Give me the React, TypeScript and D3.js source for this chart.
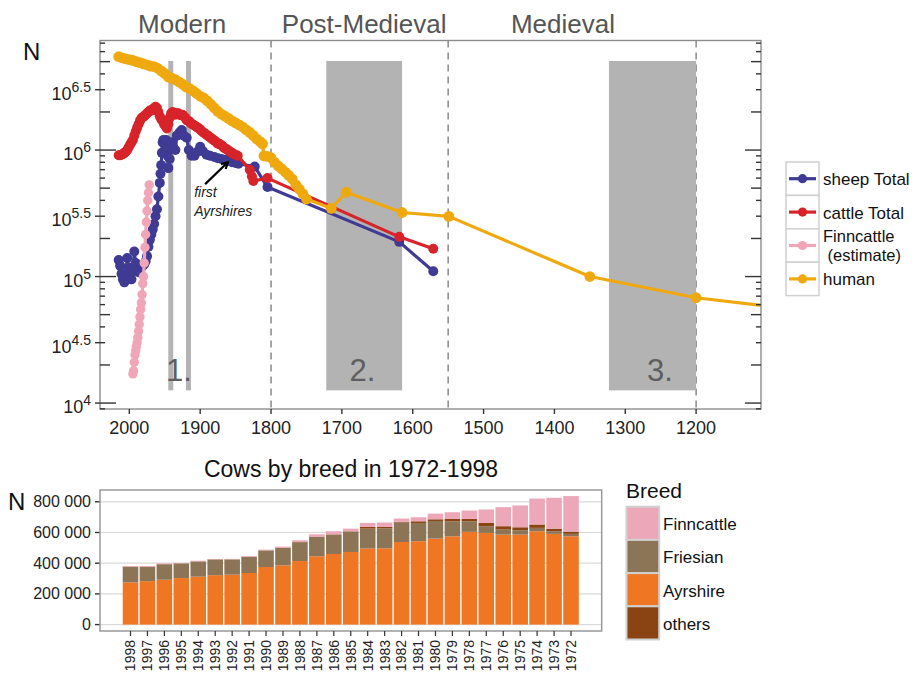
import React from "react";
import * as d3 from "d3";

// ---------- Top chart data (year, N) ----------
const SHEEP: [number, number][] = [
  [2015, 135e3], [2013, 122e3], [2011, 105e3], [2009, 95e3], [2007, 90e3], [2005, 100e3], [2003, 140e3],
  [2001, 118e3], [1999, 100e3], [1997, 95e3], [1995, 112e3], [1993, 158e3], [1991, 128e3], [1989, 112e3],
  [1987, 108e3], [1985, 112e3], [1983, 118e3], [1981, 122e3], [1979, 125e3], [1977, 132e3], [1975, 145e3],
  [1973, 172e3], [1971, 195e3], [1969, 215e3], [1967, 235e3], [1965, 260e3], [1963, 300e3], [1961, 340e3],
  [1959, 430e3], [1957, 550e3], [1956, 650e3], [1955, 760e3], [1954, 950e3], [1953, 1.15e6], [1952, 1.2e6],
  [1950, 1.1e6], [1948, 1.2e6], [1946, 0.9e6], [1945, 0.72e6], [1943, 0.85e6], [1942, 1.05e6], [1940, 1.15e6],
  [1938, 1.05e6], [1935, 1.0e6], [1933, 1.3e6], [1929, 1.38e6], [1926, 1.44e6], [1923, 1.3e6], [1919, 1.25e6],
  [1916, 1.0e6], [1912, 0.9e6], [1908, 0.9e6], [1904, 0.97e6], [1900, 1.06e6], [1896, 0.98e6], [1891, 0.92e6],
  [1886, 0.9e6], [1880, 0.88e6], [1875, 0.86e6], [1870, 0.85e6], [1865, 0.84e6], [1860, 0.82e6], [1855, 0.8e6],
  [1850, 0.79e6], [1846, 0.78e6], [1823, 0.74e6], [1805, 0.51e6], [1619, 188e3], [1571, 110e3],
];

const CATTLE: [number, number][] = [
  [2015, 0.91e6], [2013, 0.91e6], [2011, 0.92e6], [2009, 0.93e6], [2007, 0.95e6], [2005, 0.97e6], [2003, 1.0e6],
  [2001, 1.05e6], [1999, 1.1e6], [1997, 1.15e6], [1995, 1.2e6], [1993, 1.3e6], [1991, 1.4e6], [1989, 1.5e6],
  [1987, 1.6e6], [1985, 1.7e6], [1983, 1.78e6], [1981, 1.82e6], [1979, 1.85e6], [1977, 1.9e6], [1975, 1.95e6],
  [1973, 2.0e6], [1971, 2.05e6], [1969, 2.05e6], [1967, 2.1e6], [1965, 2.15e6], [1963, 2.2e6], [1961, 2.15e6],
  [1959, 2.0e6], [1957, 1.85e6], [1955, 1.75e6], [1953, 1.7e6], [1951, 1.6e6], [1949, 1.55e6], [1947, 1.48e6],
  [1945, 1.6e6], [1943, 1.8e6], [1941, 1.95e6], [1939, 2.0e6], [1937, 1.95e6], [1935, 1.9e6], [1933, 1.95e6],
  [1931, 1.95e6], [1929, 1.9e6], [1927, 1.88e6], [1925, 1.9e6], [1923, 1.85e6], [1921, 1.8e6], [1919, 1.72e6],
  [1917, 1.7e6], [1915, 1.68e6], [1913, 1.62e6], [1911, 1.6e6], [1909, 1.58e6], [1907, 1.55e6], [1905, 1.52e6],
  [1903, 1.5e6], [1901, 1.47e6], [1899, 1.43e6], [1897, 1.4e6], [1895, 1.37e6], [1893, 1.35e6], [1891, 1.32e6],
  [1889, 1.3e6], [1887, 1.27e6], [1885, 1.25e6], [1883, 1.22e6], [1881, 1.2e6], [1879, 1.18e6], [1877, 1.15e6],
  [1875, 1.12e6], [1873, 1.12e6], [1871, 1.1e6], [1869, 1.08e6], [1867, 1.05e6], [1865, 1.03e6], [1863, 1.02e6],
  [1861, 1.0e6], [1859, 0.98e6], [1857, 0.96e6], [1855, 0.95e6], [1853, 0.93e6], [1851, 0.92e6], [1849, 0.91e6],
  [1847, 0.9e6], [1830, 0.7e6], [1827, 0.62e6], [1825, 0.57e6], [1805, 0.6e6], [1619, 206e3], [1571, 166e3],
];

const FINNCATTLE: [number, number][] = [
  [1972, 530e3], [1973, 460e3], [1974, 400e3], [1975, 330e3], [1976, 270e3], [1977, 215e3], [1978, 170e3],
  [1979, 128e3], [1980, 100e3], [1981, 88e3], [1982, 72e3], [1983, 62e3], [1984, 55e3], [1985, 48e3],
  [1986, 42e3], [1987, 37e3], [1988, 33e3], [1989, 30e3], [1990, 28e3], [1991, 26e3], [1992, 24e3],
  [1993, 21e3], [1994, 18e3], [1995, 17e3],
];

const HUMAN: [number, number][] = [
  [2015, 5.47e6], [2010, 5.36e6], [2005, 5.25e6], [2000, 5.18e6], [1995, 5.11e6], [1990, 4.99e6], [1985, 4.91e6],
  [1980, 4.79e6], [1975, 4.72e6], [1970, 4.6e6], [1965, 4.56e6], [1960, 4.43e6], [1955, 4.23e6], [1950, 4.03e6],
  [1945, 3.78e6], [1940, 3.7e6], [1935, 3.6e6], [1930, 3.46e6], [1925, 3.32e6], [1920, 3.15e6], [1915, 3.06e6],
  [1910, 2.94e6], [1905, 2.8e6], [1900, 2.66e6], [1895, 2.58e6], [1890, 2.45e6], [1885, 2.3e6], [1880, 2.15e6],
  [1875, 2.02e6], [1870, 1.92e6], [1865, 1.85e6], [1860, 1.78e6], [1855, 1.7e6], [1850, 1.64e6], [1845, 1.58e6],
  [1840, 1.52e6], [1835, 1.44e6], [1830, 1.38e6], [1825, 1.3e6], [1820, 1.22e6], [1815, 1.16e6], [1812, 1.12e6],
  [1810, 0.9e6], [1805, 0.89e6], [1800, 0.87e6], [1795, 0.8e6], [1790, 0.75e6], [1785, 0.71e6], [1780, 0.67e6],
  [1775, 0.63e6], [1770, 0.59e6], [1765, 0.53e6], [1760, 0.49e6], [1755, 0.45e6], [1750, 0.41e6],
  [1715, 0.346e6], [1694, 0.464e6], [1615, 0.321e6], [1549, 0.299e6], [1350, 0.1e6], [1200, 0.068e6],
  [1000, 0.05e6],
];

const SERIES_NAMES = ["sheep Total", "cattle Total", "Finncattle", "human"];
const SERIES_COLORS = ["#3f3b94", "#d7232a", "#f0a6b7", "#efa90e"];
const SERIES_R = [5, 5, 4.7, 5.4];

// shaded crisis periods [from, to] in years, band limits in N
const CRISIS_PERIODS: [number, number][] = [[1945, 1938], [1920, 1913], [1722, 1615], [1323, 1200]];
const CRISIS_BAND: [number, number] = [1.26e4, 5.06e6];
const CRISIS_LABELS: [string, number][] = [["1.", 1930], ["2.", 1671], ["3.", 1251]];
const ERA_BOUNDARIES = [1800, 1550, 1200];
const ERA_LABELS: [string, number][] = [["Modern", 1925.5], ["Post-Medieval", 1668.5], ["Medieval", 1388]];
const X_TICKS = [2000, 1900, 1800, 1700, 1600, 1500, 1400, 1300, 1200];
const Y_LABELS: [string, string, number][] = [
  ["10", "4", 1e4], ["10", "4.5", 3e4], ["10", "5", 1e5], ["10", "5.5", 3e5], ["10", "6", 1e6], ["10", "6.5", 3e6],
];

// ---------- Bottom chart data (thousands of cows) ----------
const YEARS = [1998, 1997, 1996, 1995, 1994, 1993, 1992, 1991, 1990, 1989, 1988, 1987, 1986, 1985,
  1984, 1983, 1982, 1981, 1980, 1979, 1978, 1977, 1976, 1975, 1974, 1973, 1972];
const AYRSHIRE = [275, 283, 292, 303, 312, 322, 325, 336, 375, 386, 414, 445, 460, 473,
  495, 497, 538, 543, 560, 575, 604, 597, 586, 586, 608, 591, 575];
const FRIESIAN = [100, 92, 100, 94, 98, 101, 98, 104, 107, 113, 122, 126, 126, 133,
  130, 130, 127, 119, 115, 98, 69, 44, 33, 28, 22, 17, 16];
const OTHERS = [2, 2, 2, 2, 2, 2, 2, 2, 2, 2, 2, 2, 2, 2,
  11, 9, 4, 11, 11, 16, 16, 21, 22, 20, 22, 17, 15];
const FINN = [5, 5, 4, 3, 4, 3, 3, 4, 4, 7, 11, 15, 20, 17,
  26, 29, 22, 26, 37, 43, 54, 88, 124, 142, 169, 201, 231];
const BREED_KEYS = ["Ayrshire", "Friesian", "others", "Finncattle"];
const BREED_COLORS: Record<string, string> = {
  Finncattle: "#eca7b8", Friesian: "#8c7556", Ayrshire: "#ef7622", others: "#8a4413",
};
const LEGEND_ORDER = ["Finncattle", "Friesian", "Ayrshire", "others"];
const Y_TICKS_B = [0, 200000, 400000, 600000, 800000];

const FONT = "'Liberation Sans', Arial, Helvetica, sans-serif";

export default function App() {
  // ---- top scales ----
  const x = d3.scaleLinear().domain([2041.4, 1108.4]).range([100, 761]);
  const y = d3.scaleLog().domain([Math.pow(10, 3.953), Math.pow(10, 6.866)]).range([409, 40.5]);
  const line = d3.line<[number, number]>().x((d) => x(d[0])).y((d) => y(d[1]));
  const seriesData = [SHEEP, CATTLE, FINNCATTLE, HUMAN];

  // log ticks
  const logTicks: { v: number; len: number }[] = [];
  for (let n = 3; n <= 6; n++) {
    for (let k = 1; k <= 9; k++) {
      const v = k * Math.pow(10, n);
      if (v >= y.domain()[0] && v <= y.domain()[1]) {
        logTicks.push({ v, len: k === 1 ? 16 : k === 2 || k === 5 ? 10 : 5 });
      }
    }
  }

  // ---- bottom scales ----
  const xb = d3.scaleBand<number>().domain(YEARS).range([122.03, 579.47]).paddingInner(0.08).paddingOuter(0.04);
  const yb = d3.scaleLinear().domain([-41750, 876750]).range([631, 490]);
  const rows = YEARS.map((yr, i) => ({
    year: yr,
    Ayrshire: AYRSHIRE[i] * 1000,
    Friesian: FRIESIAN[i] * 1000,
    others: OTHERS[i] * 1000,
    Finncattle: FINN[i] * 1000,
  }));
  const stacked = d3.stack<any>().keys(BREED_KEYS)(rows);
  const fmt = (v: number) => d3.format(",")(v).replace(/,/g, " ");

  const arrowStart: [number, number] = [1893, 5.38e5];
  const arrowEnd: [number, number] = [1861, 8.0e5];
  const ax0 = x(arrowStart[0]), ay0 = y(arrowStart[1]);
  const ax1 = x(arrowEnd[0]), ay1 = y(arrowEnd[1]);
  const ang = Math.atan2(ay1 - ay0, ax1 - ax0);
  const ah = 7;
  const head = `M${ax1 - ah * Math.cos(ang - 0.5)},${ay1 - ah * Math.sin(ang - 0.5)}L${ax1},${ay1}L${ax1 - ah * Math.cos(ang + 0.5)},${ay1 - ah * Math.sin(ang + 0.5)}`;

  return (
    <div style={{ position: "absolute", left: 0, top: 0 }}>
      <svg width={918} height={676} style={{ display: "block", background: "#fff" }} fontFamily={FONT}>
        <defs>
          <clipPath id="topclip">
            <rect x={100} y={40.5} width={661} height={368.5} />
          </clipPath>
        </defs>

        {/* ===== TOP CHART ===== */}
        {ERA_LABELS.map(([t, yr]) => (
          <text key={t} x={x(yr)} y={33} textAnchor="middle" fontSize={26} fill="#555">{t}</text>
        ))}
        <text x={23} y={60} fontSize={24} fill="#111">N</text>

        <g clipPath="url(#topclip)">
          {ERA_BOUNDARIES.map((yr) => (
            <line key={yr} x1={x(yr)} x2={x(yr)} y1={40.5} y2={409} stroke="#777" strokeWidth={1.3} strokeDasharray="7,5" />
          ))}
          {CRISIS_PERIODS.map(([a, b], i) => (
            <rect key={i} x={x(a)} y={y(CRISIS_BAND[1])} width={x(b) - x(a)} height={y(CRISIS_BAND[0]) - y(CRISIS_BAND[1])}
              fill="#b3b3b3" />
          ))}
          {CRISIS_LABELS.map(([t, yr]) => (
            <text key={t} x={x(yr)} y={381} textAnchor="middle" fontSize={31} fill="#5e5e5e">{t}</text>
          ))}
          {seriesData.map((d, i) => (
            <g key={i}>
              <path d={line(d) || ""} fill="none" stroke={SERIES_COLORS[i]} strokeWidth={3.2} strokeLinejoin="round" />
              {d.map((p, j) => (
                <circle key={j} cx={x(p[0])} cy={y(p[1])} r={SERIES_R[i]} fill={SERIES_COLORS[i]} />
              ))}
            </g>
          ))}
        </g>

        {/* annotation */}
        <path d={`M${ax0},${ay0}L${ax1},${ay1}`} stroke="#000" strokeWidth={2.2} />
        <path d={head} stroke="#000" strokeWidth={2.2} fill="none" />
        <text x={x(1908.5)} y={197} fontSize={14} fontStyle="italic" fill="#222">first</text>
        <text x={x(1908.5)} y={216} fontSize={14} fontStyle="italic" fill="#222">Ayrshires</text>

        {/* frame */}
        <rect x={100} y={40.5} width={661} height={368.5} fill="none" stroke="#8c8c8c" strokeWidth={1.4} />

        {/* log ticks left & right */}
        {logTicks.map((t, i) => (
          <g key={i}>
            <line x1={100} x2={100 + t.len} y1={y(t.v)} y2={y(t.v)} stroke="#333" strokeWidth={1.4} />
            <line x1={761 - t.len} x2={761} y1={y(t.v)} y2={y(t.v)} stroke="#333" strokeWidth={1.4} />
          </g>
        ))}
        {Y_LABELS.map(([b, e, v]) => (
          <g key={e}>
            <line x1={95} x2={100} y1={y(v)} y2={y(v)} stroke="#333" strokeWidth={1.4} />
            <text x={91} y={y(v) + 10} textAnchor="end" fill="#222" fontSize={18}>
              {b}
              <tspan fontSize={14} dy={-8}>{e}</tspan>
            </text>
          </g>
        ))}
        {X_TICKS.map((t) => (
          <g key={t}>
            <line x1={x(t)} x2={x(t)} y1={409} y2={414} stroke="#333" strokeWidth={1.4} />
            <text x={x(t)} y={434} textAnchor="middle" fontSize={18} fill="#222">{t}</text>
          </g>
        ))}

        {/* top legend */}
        {SERIES_NAMES.map((nm, i) => {
          const top = 162 + i * 33.4;
          const cy = top + 16.7;
          return (
            <g key={nm}>
              <rect x={786} y={top} width={33} height={33.4} fill="#fff" stroke="#d0d0d0" strokeWidth={1.5} />
              <line x1={789} x2={816} y1={cy} y2={cy} stroke={SERIES_COLORS[i]} strokeWidth={3.2} />
              <circle cx={802.5} cy={cy} r={4.6} fill={SERIES_COLORS[i]} />
              {nm === "Finncattle" ? (
                <>
                  <text x={823} y={242} fontSize={16.5} fill="#111">Finncattle</text>
                  <text x={823} y={261} fontSize={16.5} fill="#111" xmlSpace="preserve"> (estimate)</text>
                </>
              ) : (
                <text x={823} y={cy + 6.5} fontSize={17} fill="#111">{nm}</text>
              )}
            </g>
          );
        })}

        {/* ===== BOTTOM CHART ===== */}
        <text x={351} y={477} textAnchor="middle" fontSize={23} fill="#111">Cows by breed in 1972-1998</text>
        <text x={8} y={510} fontSize={24} fill="#111">N</text>
        <rect x={100} y={490} width={501.7} height={141} fill="#fff" />
        {Y_TICKS_B.map((t) => (
          <g key={t}>
            <line x1={100} x2={601.7} y1={yb(t)} y2={yb(t)} stroke="#dadada" strokeWidth={1.2} />
            <line x1={95} x2={100} y1={yb(t)} y2={yb(t)} stroke="#333" strokeWidth={1.4} />
            <text x={91} y={yb(t) + 5.5} textAnchor="end" fontSize={16} fill="#222">{fmt(t)}</text>
          </g>
        ))}
        {stacked.map((s) => (
          <g key={s.key}>
            {s.map((d: any, i: number) => (
              <rect key={i} x={xb(d.data.year)} y={yb(d[1])} width={xb.bandwidth()} height={Math.max(0, yb(d[0]) - yb(d[1]))}
                fill={BREED_COLORS[s.key]} />
            ))}
          </g>
        ))}
        <rect x={100} y={490} width={501.7} height={141} fill="none" stroke="#999" strokeWidth={1.5} />
        {YEARS.map((yr) => {
          const cx = (xb(yr) as number) + xb.bandwidth() / 2;
          return (
            <g key={yr}>
              <line x1={cx} x2={cx} y1={631} y2={636} stroke="#333" strokeWidth={1.2} />
              <text transform={`translate(${cx},640) rotate(-90)`} textAnchor="end" dy="0.35em" fontSize={14} fill="#222">{yr}</text>
            </g>
          );
        })}

        {/* bottom legend */}
        <text x={626} y={498} fontSize={21} fill="#111">Breed</text>
        {LEGEND_ORDER.map((k, i) => {
          const top = 506.7 + i * 33.2;
          return (
            <g key={k}>
              <rect x={626.5} y={top} width={32.7} height={33.2} fill={BREED_COLORS[k]} stroke="#d0d0d0" strokeWidth={2} />
              <text x={663} y={top + 23.5} fontSize={17} fill="#111">{k}</text>
            </g>
          );
        })}
      </svg>
    </div>
  );
}
